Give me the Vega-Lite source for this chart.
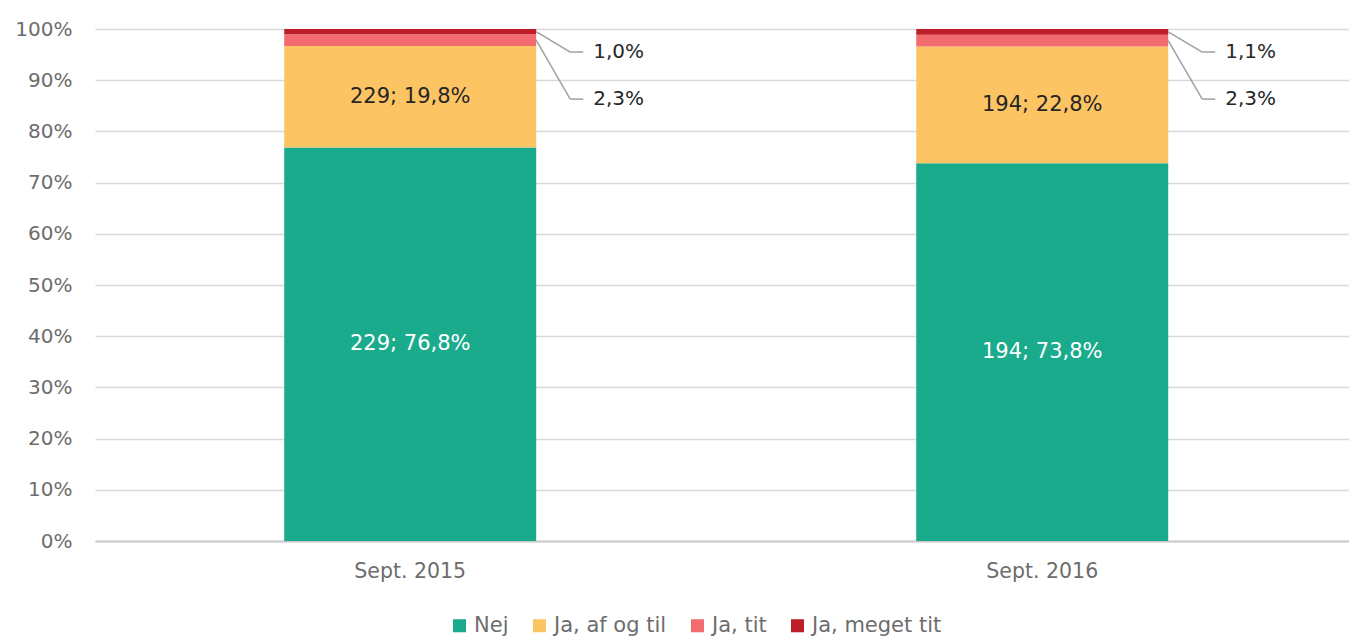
{
  "$schema": "https://vega.github.io/schema/vega-lite/v6.json",
  "width": 1254,
  "height": 512,
  "autosize": {"type": "none"},
  "padding": {"left": 95, "top": 29, "right": 0, "bottom": 96},
  "background": "white",
  "config": {"font": "DejaVu Sans", "view": {"stroke": null}},
  "data": {
    "values": [
      {"period": "Sept. 2015", "category": "Nej", "ord": 1, "pct": 76.8, "label": "229; 76,8%"},
      {"period": "Sept. 2015", "category": "Ja, af og til", "ord": 2, "pct": 19.8, "label": "229; 19,8%"},
      {"period": "Sept. 2015", "category": "Ja, tit", "ord": 3, "pct": 2.3, "label": "2,3%"},
      {"period": "Sept. 2015", "category": "Ja, meget tit", "ord": 4, "pct": 1.0, "label": "1,0%"},
      {"period": "Sept. 2016", "category": "Nej", "ord": 1, "pct": 73.8, "label": "194; 73,8%"},
      {"period": "Sept. 2016", "category": "Ja, af og til", "ord": 2, "pct": 22.8, "label": "194; 22,8%"},
      {"period": "Sept. 2016", "category": "Ja, tit", "ord": 3, "pct": 2.3, "label": "2,3%"},
      {"period": "Sept. 2016", "category": "Ja, meget tit", "ord": 4, "pct": 1.1, "label": "1,1%"}
    ]
  },
  "transform": [
    {"stack": "pct", "groupby": ["period"], "sort": [{"field": "ord"}], "as": ["y0", "y1"], "offset": "normalize"},
    {"calculate": "(datum.y0 + datum.y1) / 2", "as": "mid"},
    {"calculate": "datum.ord == 4 ? 0.955 : (datum.ord == 3 ? 0.863 : null)", "as": "labelY"}
  ],
  "encoding": {
    "x": {
      "field": "period", "type": "nominal", "sort": null,
      "scale": {"paddingInner": 0.6013, "paddingOuter": 0.2927, "align": 0.5114},
      "axis": {"title": null, "labelAngle": 0, "ticks": false, "domain": true, "domainColor": "#c8c8c8", "domainWidth": 2, "labelFontSize": 20.5, "labelColor": "#6d6d6d", "labelPadding": 20}
    }
  },
  "layer": [
    {
      "mark": {"type": "bar"},
      "encoding": {
        "y": {
          "field": "y0", "type": "quantitative",
          "scale": {"domain": [0, 1], "nice": false},
          "axis": {"title": null, "format": ".0%", "values": [0, 0.1, 0.2, 0.3, 0.4, 0.5, 0.6, 0.7, 0.8, 0.9, 1], "domain": false, "ticks": false, "grid": true, "gridColor": "#d9d9d9", "gridWidth": 1.5, "labelFontSize": 20, "labelColor": "#6d6d6d", "labelPadding": 23}
        },
        "y2": {"field": "y1"},
        "color": {
          "field": "category", "type": "nominal",
          "scale": {"domain": ["Nej", "Ja, af og til", "Ja, tit", "Ja, meget tit"], "range": ["#1aaa8c", "#fdc463", "#f26b6e", "#be1e2a"]},
          "legend": {"title": null, "orient": "none", "legendX": 354, "legendY": 586, "direction": "horizontal", "symbolType": "square", "symbolSize": 170, "labelFontSize": 21, "labelColor": "#6d6d6d", "columnPadding": 20, "labelOffset": 4, "symbolStrokeWidth": 0}
        }
      }
    },
    {
      "transform": [{"filter": "datum.ord <= 2"}],
      "mark": {"type": "text", "fontSize": 21, "baseline": "middle", "align": "center"},
      "encoding": {
        "y": {"field": "mid", "type": "quantitative"},
        "text": {"field": "label"},
        "color": {"condition": {"test": "datum.ord == 1", "value": "#ffffff"}, "value": "#262626"}
      }
    },
    {
      "transform": [{"filter": "datum.ord >= 3"}],
      "mark": {"type": "rule", "color": "#a0a0a0", "strokeWidth": 1.5, "x2Offset": 34},
      "encoding": {
        "x": {"field": "period", "type": "nominal", "bandPosition": 1},
        "x2": {"field": "period", "bandPosition": 1},
        "y": {"field": "mid", "type": "quantitative"},
        "y2": {"field": "labelY"}
      }
    },
    {
      "transform": [{"filter": "datum.ord >= 3"}],
      "mark": {"type": "rule", "color": "#a0a0a0", "strokeWidth": 1.5, "xOffset": 34, "x2Offset": 47},
      "encoding": {
        "x": {"field": "period", "type": "nominal", "bandPosition": 1},
        "x2": {"field": "period", "bandPosition": 1},
        "y": {"field": "labelY", "type": "quantitative"}
      }
    },
    {
      "transform": [{"filter": "datum.ord >= 3"}],
      "mark": {"type": "text", "fontSize": 20, "baseline": "middle", "align": "left", "dx": 57, "color": "#262626"},
      "encoding": {
        "x": {"field": "period", "type": "nominal", "bandPosition": 1},
        "y": {"field": "labelY", "type": "quantitative"},
        "text": {"field": "label"}
      }
    }
  ]
}
